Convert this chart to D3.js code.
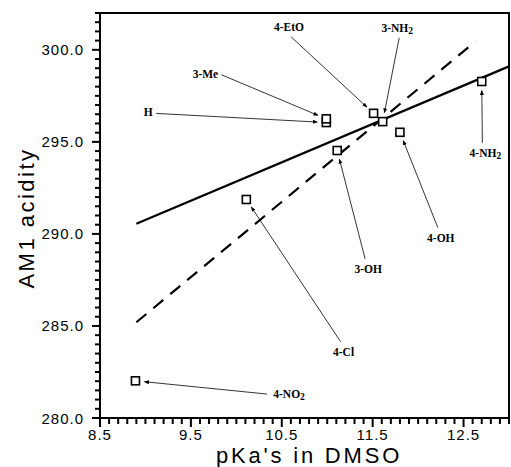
<!DOCTYPE html>
<html>
<head>
<meta charset="utf-8">
<script src="https://cdn.jsdelivr.net/npm/d3@7"></script>
<style>
  body { margin: 0; background: #fff; }
  svg { display: block; }
</style>
</head>
<body>
<svg width="511" height="467"></svg>
<script>
// substituents and their values (pKa in DMSO, AM1 acidity)
const names = ["4-NO2", "4-Cl", "3-OH", "H", "3-Me", "4-EtO", "3-NH2", "4-OH", "4-NH2"];
const pka = [8.89, 10.11, 11.11, 10.99, 10.99, 11.51, 11.61, 11.80, 12.70];
const acidity = [282.02, 291.87, 294.53, 296.05, 296.25, 296.55, 296.1, 295.52, 298.28];

// the two fitted lines, as end points [pKa, acidity]
const solidFit = [[8.9, 290.55], [13.0, 299.1]];
const dashedFit = [[8.9, 285.2], [12.63, 300.45]];

// where each label sits (data units) and which side the leader leaves from
const labelX = [10.58, 11.18, 11.45, 9.03, 9.66, 10.58, 11.77, 12.25, 12.74];
const labelY = [281.3, 283.6, 288.1, 296.6, 298.7, 301.25, 301.2, 289.8, 294.4];
const labelSide = ["left", "top", "top", "right", "right", "bottom", "bottom", "top", "top"];

const xTicks = [8.5, 9.5, 10.5, 11.5, 12.5];
const yTicks = [280, 285, 290, 295, 300];

const svg = d3.select("svg");
const plotLeft = 100, plotRight = 509, plotTop = 13, plotBottom = 418;

const x = d3.scaleLinear().domain([8.5, 13.0]).range([plotLeft, plotRight]);
const y = d3.scaleLinear().domain([280, 302]).range([plotBottom, plotTop]);

const tickFont = "'Liberation Sans', Arial, sans-serif";

//arrowhead for the leader lines
svg.append("defs").append("marker")
    .attr("id", "arrow")
    .attr("viewBox", "0 0 10 10")
    .attr("refX", 9)
    .attr("refY", 5)
    .attr("markerWidth", 5)
    .attr("markerHeight", 5)
    .attr("markerUnits", "userSpaceOnUse")
    .attr("orient", "auto")
    .append("path")
    .attr("d", "M0,1 L10,5 L0,9 Z")
    .attr("fill", "black");

//frame
svg.append("rect")
    .attr("x", plotLeft)
    .attr("y", plotTop)
    .attr("width", plotRight - plotLeft)
    .attr("height", plotBottom - plotTop)
    .attr("fill", "none")
    .attr("stroke", "black")
    .attr("stroke-width", 2);

//minor + major ticks
const xMinor = d3.range(85, 131).map(d => d / 10);
const yMinor = d3.range(560, 605).map(d => d / 2);
const isMajorX = v => xTicks.some(t => Math.abs(t - v) < 1e-6);
const isMajorY = v => yTicks.some(t => Math.abs(t - v) < 1e-6);

svg.append("g").selectAll("line")
    .data(xMinor)
    .enter()
    .append("line")
    .attr("x1", d => x(d))
    .attr("x2", d => x(d))
    .attr("y1", plotBottom)
    .attr("y2", d => plotBottom + (isMajorX(d) ? 9 : 6))
    .attr("stroke", "black")
    .attr("stroke-width", 2);

svg.append("g").selectAll("line")
    .data(yMinor)
    .enter()
    .append("line")
    .attr("y1", d => y(d))
    .attr("y2", d => y(d))
    .attr("x1", plotLeft)
    .attr("x2", d => plotLeft - (isMajorY(d) ? 8 : 5))
    .attr("stroke", "black")
    .attr("stroke-width", 2);

//tick labels
svg.append("g").selectAll("text")
    .data(xTicks)
    .enter()
    .append("text")
    .attr("x", d => x(d))
    .attr("y", 440)
    .attr("text-anchor", "middle")
    .attr("font-family", tickFont)
    .attr("font-size", 15)
    .attr("letter-spacing", 1)
    .text(d3.format(".1f"));

svg.append("g").selectAll("text")
    .data(yTicks)
    .enter()
    .append("text")
    .attr("x", 84)
    .attr("y", d => y(d) + 5.5)
    .attr("text-anchor", "end")
    .attr("font-family", tickFont)
    .attr("font-size", 15)
    .attr("letter-spacing", 1)
    .text(d3.format(".1f"));

//axis titles
svg.append("text")
    .attr("x", 309)
    .attr("y", 463)
    .attr("text-anchor", "middle")
    .attr("font-family", tickFont)
    .attr("font-size", 22)
    .attr("letter-spacing", 2.8)
    .text("pKa's in DMSO");

svg.append("text")
    .attr("transform", "translate(34,218) rotate(-90)")
    .attr("text-anchor", "middle")
    .attr("font-family", tickFont)
    .attr("font-size", 22)
    .attr("letter-spacing", 2.5)
    .text("AM1  acidity");

//fitted lines
const line = d3.line().x(d => x(d[0])).y(d => y(d[1]));

svg.append("path")
    .datum(solidFit)
    .attr("d", line)
    .attr("fill", "none")
    .attr("stroke", "black")
    .attr("stroke-width", 2.2);

svg.append("path")
    .datum(dashedFit)
    .attr("d", line)
    .attr("fill", "none")
    .attr("stroke", "black")
    .attr("stroke-width", 2.2)
    .attr("stroke-dasharray", "13,9");

//points
const pts = names.map((n, i) => ({ name: n, px: x(pka[i]), py: y(acidity[i]),
    lx: x(labelX[i]), ly: y(labelY[i]), side: labelSide[i] }));

svg.append("g").selectAll("rect")
    .data(pts)
    .enter()
    .append("rect")
    .attr("x", d => d.px - 4)
    .attr("y", d => d.py - 4)
    .attr("width", 8)
    .attr("height", 8)
    .attr("fill", "white")
    .attr("stroke", "black")
    .attr("stroke-width", 1.6);

//leader lines from label to point
function leaderStart(d) {
    if (d.side == "left") return [d.lx - 22, d.ly];
    if (d.side == "right") return [d.lx + (d.name == "H" ? 8 : 16), d.ly + 1];
    if (d.side == "top") return [d.lx - 3, d.ly - 10];
    return [d.lx + 2, d.ly + 10];
}

svg.append("g").selectAll("line")
    .data(pts)
    .enter()
    .append("line")
    .each(function (d) {
        const s = leaderStart(d);
        const dx = d.px - s[0], dy = d.py - s[1];
        const len = Math.sqrt(dx * dx + dy * dy);
        const k = (len - 9) / len; //stop short of the square
        d3.select(this)
            .attr("x1", s[0])
            .attr("y1", s[1])
            .attr("x2", s[0] + dx * k)
            .attr("y2", s[1] + dy * k);
    })
    .attr("stroke", "black")
    .attr("stroke-width", 0.8)
    .attr("marker-end", "url(#arrow)");

//labels, subscript 2 drawn as tspan
const labels = svg.append("g").selectAll("text")
    .data(pts)
    .enter()
    .append("text")
    .attr("x", d => d.lx)
    .attr("y", d => d.ly + 4)
    .attr("text-anchor", "middle")
    .attr("font-family", "'Liberation Serif', 'Times New Roman', serif")
    .attr("font-weight", "bold")
    .attr("font-size", 11.5);

labels.each(function (d) {
    const t = d3.select(this);
    if (d.name.endsWith("2")) {
        t.append("tspan").text(d.name.slice(0, -1));
        t.append("tspan").attr("dy", 2).attr("font-size", 9.5).text("2");
    } else {
        t.text(d.name);
    }
});
</script>
</body>
</html>
